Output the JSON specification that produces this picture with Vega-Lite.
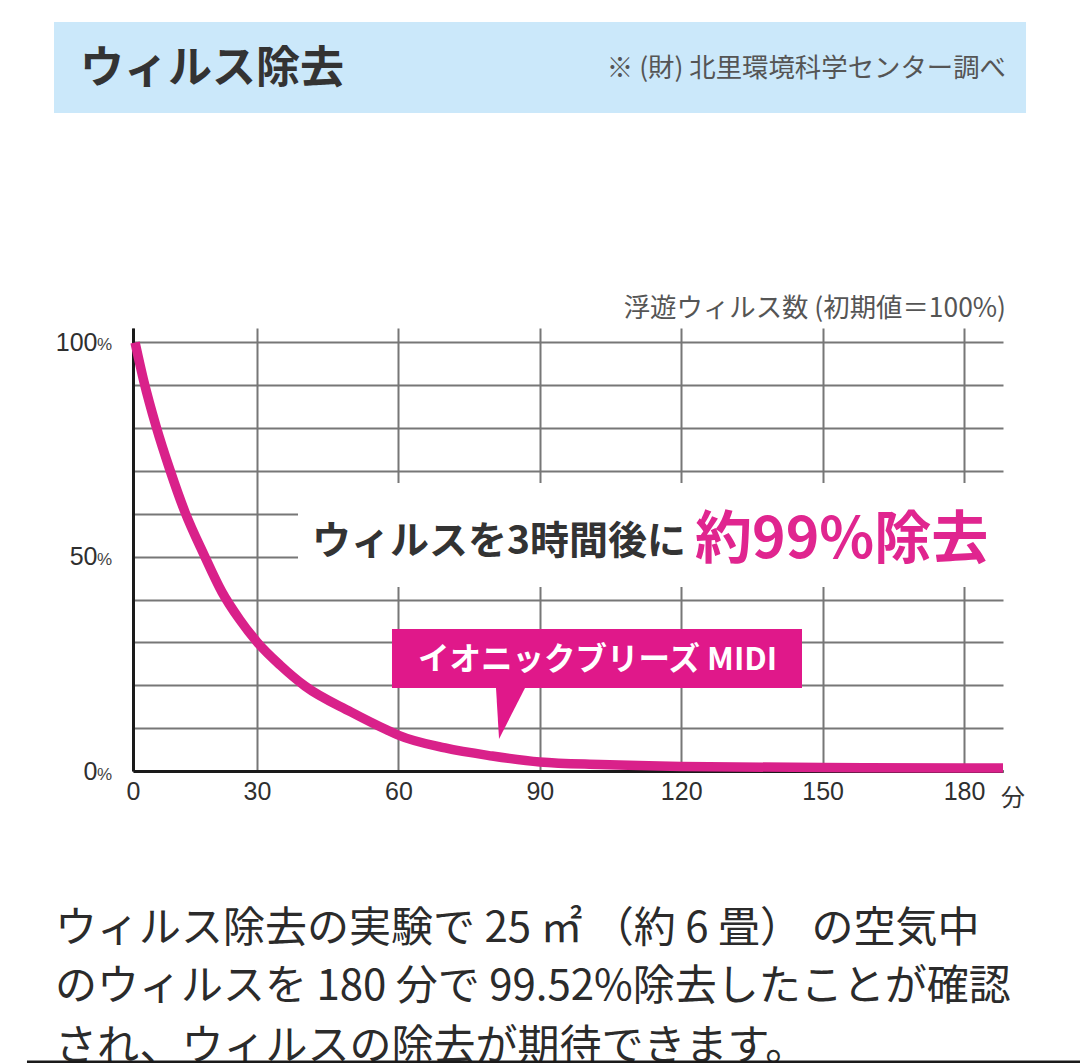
{"$schema":"https://vega.github.io/schema/vega-lite/v6.json","width":870,"height":443,"autosize":"none","padding":{"left":133,"top":328,"right":77,"bottom":292},"background":"#ffffff","config":{"view":{"stroke":null},"text":{"font":"Noto Sans CJK JP"}},"encoding":{"x":{"field":"minute","type":"quantitative","title":null,"scale":{"domain":[0,30,180,188.3],"range":[0,124,831,870],"nice":false,"zero":false},"axis":{"values":[0,30,60,90,120,150,180],"grid":true,"gridColor":"#777777","gridWidth":2,"ticks":false,"domainColor":"#1a1a1a","domainWidth":3,"labelFont":"Liberation Sans","labelFontSize":25,"labelColor":"#2f2f2f","labelPadding":8,"labelFlush":false,"labelOverlap":false}},"y":{"field":"pct","type":"quantitative","title":null,"scale":{"domain":[0,103.36],"nice":false,"zero":false},"axis":{"values":[0,10,20,30,40,50,60,70,80,90,100],"grid":true,"gridColor":"#777777","gridWidth":2,"ticks":false,"domainColor":"#1a1a1a","domainWidth":3,"labelFont":"Liberation Sans","labelFontSize":25,"labelColor":"#2f2f2f","labelPadding":36,"labelOverlap":false,"labelExpr":"datum.value % 50 === 0 ? datum.value : ''"}}},"layer":[{"data":{"values":[{"minute":38.7,"minute2":189.79,"pct":67.2,"pct2":42.93}]},"mark":{"type":"rect","fill":"#ffffff"},"encoding":{"x2":{"field":"minute2"},"y2":{"field":"pct2"}}},{"data":{"values":[{"minute":-19.11,"minute2":193.2,"pct":174.76,"pct2":153.52}]},"mark":{"type":"rect","fill":"#cbe8fa"},"encoding":{"x2":{"field":"minute2"},"y2":{"field":"pct2"}}},{"data":{"values":[{"minute":0.5,"pct":100},{"minute":2.66,"pct":90.8},{"minute":5.56,"pct":80.5},{"minute":8.95,"pct":70.2},{"minute":12.58,"pct":60.4},{"minute":17.2,"pct":50.4},{"minute":21.5,"pct":41.8},{"minute":25.9,"pct":35.2},{"minute":30,"pct":30.1},{"minute":34.9,"pct":24.7},{"minute":40.2,"pct":19.8},{"minute":49.9,"pct":13.8},{"minute":57.6,"pct":9.56},{"minute":59.9,"pct":8.4},{"minute":69.9,"pct":5.37},{"minute":79.9,"pct":3.5},{"minute":90,"pct":2.1},{"minute":102.8,"pct":1.5},{"minute":120,"pct":1.05},{"minute":150,"pct":0.8},{"minute":180,"pct":0.7},{"minute":188.3,"pct":0.7}]},"mark":{"type":"line","stroke":"#d9218a","strokeWidth":9.5,"interpolate":"monotone","strokeCap":"butt"}},{"data":{"values":[{"minute":58.64,"minute2":145.63,"pct":33.13,"pct2":19.37}]},"mark":{"type":"rect","fill":"#e0188a"},"encoding":{"x2":{"field":"minute2"},"y2":{"field":"pct2"}}},{"data":{"values":[{"minute":80.71,"pct":19.37,"pct2":19.37},{"minute":81.35,"pct":7.47,"pct2":19.37},{"minute":86.86,"pct":19.37,"pct2":19.37}]},"mark":{"type":"area","fill":"#e0188a"},"encoding":{"y2":{"field":"pct2"}}},{"data":{"values":[{"minute":-8.71,"pct":99.5,"label":"%"},{"minute":-8.71,"pct":49.2,"label":"%"},{"minute":-8.71,"pct":-0.93,"label":"%"}]},"mark":{"type":"text","align":"left","baseline":"middle","font":"Liberation Sans","fontSize":17,"fill":"#444444"},"encoding":{"text":{"field":"label"}}},{"data":{"values":[{"minute":-12.82,"pct":163.6,"label":"ウィルス除去"}]},"mark":{"type":"text","align":"left","baseline":"middle","fontSize":44,"fontWeight":"bold","fill":"#333333"},"encoding":{"text":{"field":"label"}}},{"data":{"values":[{"minute":188.94,"pct":163.8,"label":"※ (財)  北里環境科学センター調べ"},{"minute":188.94,"pct":107.8,"label":"浮遊ウィルス数 (初期値＝100%)"}]},"mark":{"type":"text","align":"right","baseline":"middle","fontSize":26.4,"fill":"#555555"},"encoding":{"text":{"field":"label"}}},{"data":{"values":[{"minute":41.67,"pct":53.4,"label":"ウィルスを3時間後に"}]},"mark":{"type":"text","align":"left","baseline":"middle","fontSize":39,"fontWeight":"bold","fill":"#333333"},"encoding":{"text":{"field":"label"}}},{"data":{"values":[{"minute":122.93,"pct":53.6,"label":"約99%除去"}]},"mark":{"type":"text","align":"left","baseline":"middle","fontSize":57,"fontWeight":"bold","fill":"#e0258f"},"encoding":{"text":{"field":"label"}}},{"data":{"values":[{"minute":64.16,"pct":25.7,"label":"イオニックブリーズ MIDI"}]},"mark":{"type":"text","align":"left","baseline":"middle","fontSize":31.5,"fontWeight":"bold","fill":"#ffffff"},"encoding":{"text":{"field":"label"}}},{"data":{"values":[{"minute":190.43,"pct":-6.5,"label":"分"}]},"mark":{"type":"text","align":"center","baseline":"middle","fontSize":24,"fill":"#333333"},"encoding":{"text":{"field":"label"}}},{"data":{"values":[{"minute":-18.87,"pct":-36.86,"label":"ウィルス除去の実験で 25 ㎡ （約 6 畳） の空気中"},{"minute":-18.87,"pct":-50.4,"label":"のウィルスを 180 分で 99.52%除去したことが確認"},{"minute":-18.87,"pct":-64.4,"label":"され、ウィルスの除去が期待できます。"}]},"mark":{"type":"text","align":"left","baseline":"middle","fontSize":42,"fill":"#2b2b2b"},"encoding":{"text":{"field":"label"}}},{"data":{"values":[{"minute":-25.65,"minute2":204.69,"pct":-67.9}]},"mark":{"type":"rule","stroke":"#1a1a1a","strokeWidth":3},"encoding":{"x2":{"field":"minute2"}}}]}
